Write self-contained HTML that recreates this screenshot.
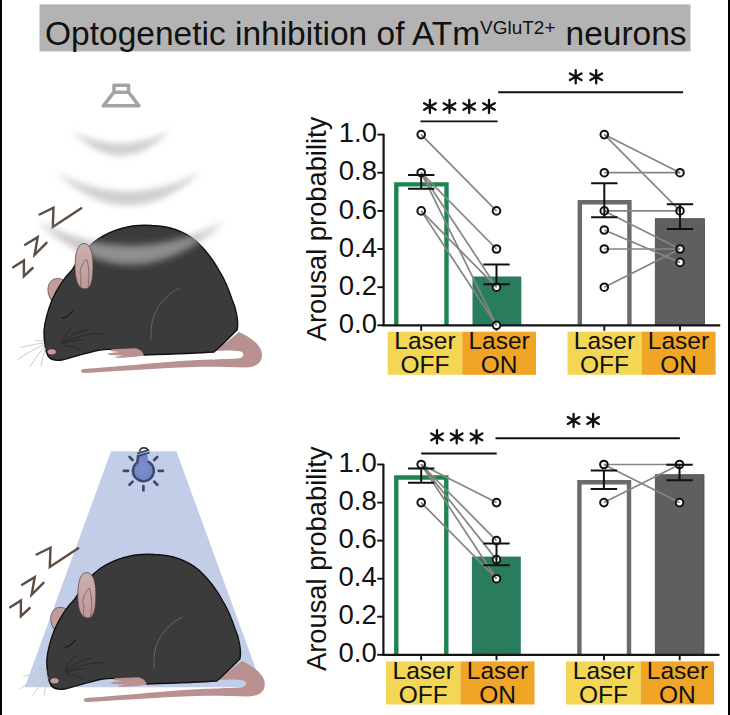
<!DOCTYPE html>
<html><head><meta charset="utf-8"><style>
html,body{margin:0;padding:0;background:#fff;}
body{width:730px;height:715px;position:relative;overflow:hidden;font-family:"Liberation Sans",sans-serif;}
</style></head><body>
<svg width="730" height="715" viewBox="0 0 730 715" style="position:absolute;left:0;top:0" font-family="Liberation Sans, sans-serif">
<defs><linearGradient id="earg" x1="0" y1="0" x2="0" y2="1"><stop offset="0" stop-color="#cbb0b0"/><stop offset="1" stop-color="#bf9797"/></linearGradient><filter id="blur" x="-20%" y="-50%" width="140%" height="200%"><feGaussianBlur stdDeviation="3.2"/></filter><filter id="blur2" x="-20%" y="-50%" width="140%" height="200%"><feGaussianBlur stdDeviation="3.6"/></filter></defs>
<rect x="0" y="0" width="730" height="715" fill="#fff"/>
<rect x="0" y="0" width="2" height="715" fill="#000"/>
<rect x="728" y="0" width="2" height="715" fill="#000"/>
<rect x="39.5" y="4.4" width="651" height="47" fill="#b3b3b3"/>
<text x="45" y="44.5" font-size="33.5" fill="#111">Optogenetic inhibition of ATm<tspan font-size="19" dy="-11" x="480">VGluT2+</tspan><tspan x="565.5" dy="11">neurons</tspan></text>
<path d="M114,85.2 H128.6 V92.2 H114 Z M114,92.2 L103.3,105.8 H139 L128.6,92.2" fill="none" stroke="#a3a3a3" stroke-width="3.5" stroke-linejoin="round"/>
<path d="M72.9,131.5 Q121.45,180.0 170,130.5 Q121.45,156.0 72.9,131.5 Z" fill="#cdcdcd" filter="url(#blur)"/>
<path d="M56.5,172.5 Q128.75,239.0 201,171.5 Q128.75,211.0 56.5,172.5 Z" fill="#cdcdcd" filter="url(#blur)"/>
<path d="M39.6,214.5 L53.5,207.6 L52.8,227 L81.2,208.2 M25.1,244.7 L37.7,237.1 L34.6,254.8 L46.5,242.8 M13.2,267.3 L23.9,260.4 L23.9,276.2 L32.7,268" fill="none" stroke="#5d4c44" stroke-width="2.4" stroke-linejoin="miter" stroke-linecap="round"/>
<path d="M212,351 C222,346 232,338 239,332 C250,337 262,345 262,355 C262,363 256,367 246,367.5 C225,367 205,366 180,367.5 C150,369 110,371.5 84,373 C80,372.5 80,369.5 84,369 C110,367 150,363.5 180,361 C205,359.5 228,359 238,358.5 C244,357.5 245,354 241,351.5 C232,350 222,350.5 212,351 Z" fill="#b99191"/>
<path d="M51,300 C46,292 47,282 54,279 C60,277 66,280 68,286 L58,300 Z" fill="#c29c9c" stroke="#333" stroke-width="0.6"/>
<path d="M72,270 C66,276 58,287 52,300 C48,310 45,320 44,331 C44,340 45,350 48,356 C51,360 56,361 62,360 C72,358 84,353 100,350 C115,348 130,351 144,355 C175,354 200,353 214,352 C222,345 231,336 237,330 C239,322 236,308 232.3,300 C229,290 225,280 220,272 C214,261 206,250 196,241 C185,232 170,226 152,225.5 C130,224 112,230 98,239 C86,247 78,260 72,270 Z" fill="#3b3b3b" stroke="#111" stroke-width="1.4"/>
<path d="M144,355.5 C143,352 140,349 135,348.3 L112,349.2 C110,349.7 110,351 112,351.3 L119,352 L108.5,353.3 C107.8,354.3 108.5,355 110,355 L123,355.5 L115.5,356.8 C115,357.5 116,358 118,357.8 C128,357.5 138,356.8 144,355.5 Z" fill="#b99191"/>
<path d="M179.6,288 C165,295 155,308 152,322 C151,330 151,336 151,340" fill="none" stroke="#6a6a6a" stroke-width="0.9"/>
<ellipse cx="51.7" cy="351.8" rx="4.2" ry="2.6" fill="#c99a9a"/>
<path d="M62.2,318.3 C67,317 71,314 72.7,310.6" fill="none" stroke="#1a1a1a" stroke-width="1.2"/>
<path d="M61.6,343.3 C64,336 68,330 74,325.5 M62,342 C70,335 80,331 89.7,329 M62.5,343 C74,337 90,333 102.7,333.7 M63,344 C70,341 77,340 83.5,339.9 M63.5,345.5 C70,346 76,348 80,350" fill="none" stroke="#262626" stroke-width="0.8"/>
<path d="M44.5,343 C35,344 27,346 20.5,347.5 M44.5,344.5 C35,349 25,354 17,360 M45,346 C40,352 35,359 30,366.5 M45.5,348 C44,354 42,360 41,366.5 M44,341.5 C41,341 38,340.5 35.5,340.5" fill="none" stroke="#c4c4c4" stroke-width="0.9"/>
<path d="M37,221 Q131.0,308.0 225,221 Q131.0,270.0 37,221 Z" fill="#b0b0b0" fill-opacity="0.72" filter="url(#blur2)"/>
<path d="M84,243.5 C90,243.5 93,252 93,266 C93,280 91,289 85,289 C78,289 75,280 75,266 C75,252 78,243.5 84,243.5 Z" fill="url(#earg)" stroke="#4a4040" stroke-width="0.7"/>
<path d="M86.5,259 C82,264 79,270 80.5,275 C82,279 79.5,283 81.5,288 M86.5,259 C89,266 89.5,276 88,287" fill="none" stroke="#806868" stroke-width="0.9"/>
<g transform="translate(0,0)"><polygon points="111.1,451.3 176.4,451.3 262.5,687.3 24.7,687.3" fill="#c2cde7"/>
<defs><radialGradient id="bg" cx="0.5" cy="0.55" r="0.6"><stop offset="0" stop-color="#7f90d0"/><stop offset="1" stop-color="#6d7ec2"/></radialGradient></defs>
<path d="M138.2,456 L147,454.5 C147.5,457 148,459.5 148.6,461.8 A10.4,10.4 0 1 1 137.4,462.3 Z" fill="url(#bg)"/>
<path d="M148.6,461.8 A10.4,10.4 0 1 1 137.4,462.3 C137.6,460 137.8,458 138.2,456" fill="none" stroke="#3e4a6c" stroke-width="2.6" stroke-linecap="round"/>
<path d="M137.5,456 L148.8,452.8 M138,453.2 L148.5,450.2" fill="none" stroke="#3e4a6c" stroke-width="1.9" stroke-linecap="round"/>
<path d="M139.8,451.2 C140,447 147.5,446.5 147.8,450.8" fill="none" stroke="#3b3a44" stroke-width="1.8"/>
<path d="M158.7,470.8L163.0,470.8 M154.2,481.6L157.3,484.7 M143.4,486.1L143.4,490.4 M132.6,481.6L129.5,484.7 M128.1,470.8L123.8,470.8 M132.6,460.0L129.5,456.9 M154.2,460.0L157.3,456.9" stroke="#3e4a6c" stroke-width="2.7" stroke-linecap="round"/></g>
<g transform="translate(-3,340)"><path d="M39.6,214.5 L53.5,207.6 L52.8,227 L81.2,208.2 M25.1,244.7 L37.7,237.1 L34.6,254.8 L46.5,242.8 M13.2,267.3 L23.9,260.4 L23.9,276.2 L32.7,268" fill="none" stroke="#5d4c44" stroke-width="2.4" stroke-linejoin="miter" stroke-linecap="round"/></g><g transform="translate(2.8,329)"><path d="M212,351 C222,346 232,338 239,332 C250,337 262,345 262,355 C262,363 256,367 246,367.5 C225,367 205,366 180,367.5 C150,369 110,371.5 84,373 C80,372.5 80,369.5 84,369 C110,367 150,363.5 180,361 C205,359.5 228,359 238,358.5 C244,357.5 245,354 241,351.5 C232,350 222,350.5 212,351 Z" fill="#b99191"/>
<path d="M51,300 C46,292 47,282 54,279 C60,277 66,280 68,286 L58,300 Z" fill="#c29c9c" stroke="#333" stroke-width="0.6"/>
<path d="M72,270 C66,276 58,287 52,300 C48,310 45,320 44,331 C44,340 45,350 48,356 C51,360 56,361 62,360 C72,358 84,353 100,350 C115,348 130,351 144,355 C175,354 200,353 214,352 C222,345 231,336 237,330 C239,322 236,308 232.3,300 C229,290 225,280 220,272 C214,261 206,250 196,241 C185,232 170,226 152,225.5 C130,224 112,230 98,239 C86,247 78,260 72,270 Z" fill="#3b3b3b" stroke="#111" stroke-width="1.4"/>
<path d="M144,355.5 C143,352 140,349 135,348.3 L112,349.2 C110,349.7 110,351 112,351.3 L119,352 L108.5,353.3 C107.8,354.3 108.5,355 110,355 L123,355.5 L115.5,356.8 C115,357.5 116,358 118,357.8 C128,357.5 138,356.8 144,355.5 Z" fill="#b99191"/>
<path d="M179.6,288 C165,295 155,308 152,322 C151,330 151,336 151,340" fill="none" stroke="#6a6a6a" stroke-width="0.9"/>
<ellipse cx="51.7" cy="351.8" rx="4.2" ry="2.6" fill="#c99a9a"/>
<path d="M62.2,318.3 C67,317 71,314 72.7,310.6" fill="none" stroke="#1a1a1a" stroke-width="1.2"/>
<path d="M61.6,343.3 C64,336 68,330 74,325.5 M62,342 C70,335 80,331 89.7,329 M62.5,343 C74,337 90,333 102.7,333.7 M63,344 C70,341 77,340 83.5,339.9 M63.5,345.5 C70,346 76,348 80,350" fill="none" stroke="#262626" stroke-width="0.8"/>
<path d="M44.5,343 C35,344 27,346 20.5,347.5 M44.5,344.5 C35,349 25,354 17,360 M45,346 C40,352 35,359 30,366.5 M45.5,348 C44,354 42,360 41,366.5 M44,341.5 C41,341 38,340.5 35.5,340.5" fill="none" stroke="#c4c4c4" stroke-width="0.9"/><path d="M84,243.5 C90,243.5 93,252 93,266 C93,280 91,289 85,289 C78,289 75,280 75,266 C75,252 78,243.5 84,243.5 Z" fill="url(#earg)" stroke="#4a4040" stroke-width="0.7"/>
<path d="M86.5,259 C82,264 79,270 80.5,275 C82,279 79.5,283 81.5,288 M86.5,259 C89,266 89.5,276 88,287" fill="none" stroke="#806868" stroke-width="0.9"/></g>
<path d="M396.3,325.3V184.4H446.5V325.3" fill="none" stroke="#1d8552" stroke-width="4.4"/>
<rect x="472.5" y="276.5" width="48.8" height="48.8" fill="#297c5c" stroke="none" stroke-width="0.8"/>
<path d="M579.8,325.3V202.2H629.4V325.3" fill="none" stroke="#6a6a6a" stroke-width="4.4"/>
<rect x="655.3" y="218.7" width="49.2" height="106.6" fill="#5f5f5f" stroke="#484848" stroke-width="0.8"/>
<path d="M383.6,133.8V325.3H720.2" fill="none" stroke="#151515" stroke-width="2.2"/>
<path d="M377.4,325.3H383.6" stroke="#111" stroke-width="1.9"/>
<path d="M377.4,287.2H383.6" stroke="#111" stroke-width="1.9"/>
<path d="M377.4,249.0H383.6" stroke="#111" stroke-width="1.9"/>
<path d="M377.4,210.9H383.6" stroke="#111" stroke-width="1.9"/>
<path d="M377.4,172.7H383.6" stroke="#111" stroke-width="1.9"/>
<path d="M377.4,134.6H383.6" stroke="#111" stroke-width="1.9"/>
<path d="M421.2,325.3V330.8" stroke="#111" stroke-width="1.9"/>
<path d="M496.5,325.3V330.8" stroke="#111" stroke-width="1.9"/>
<path d="M604.3,325.3V330.8" stroke="#111" stroke-width="1.9"/>
<path d="M680.0,325.3V330.8" stroke="#111" stroke-width="1.9"/>
<text x="377.0" y="332.9" text-anchor="end" font-size="27.5" fill="#111">0.0</text>
<text x="377.0" y="294.8" text-anchor="end" font-size="27.5" fill="#111">0.2</text>
<text x="377.0" y="256.6" text-anchor="end" font-size="27.5" fill="#111">0.4</text>
<text x="377.0" y="218.5" text-anchor="end" font-size="27.5" fill="#111">0.6</text>
<text x="377.0" y="180.3" text-anchor="end" font-size="27.5" fill="#111">0.8</text>
<text x="377.0" y="142.2" text-anchor="end" font-size="27.5" fill="#111">1.0</text>
<text transform="translate(325.5,229.0) rotate(-90)" text-anchor="middle" font-size="27.3" fill="#111">Arousal probability</text>
<circle cx="421.2" cy="134.6" r="3.8" fill="#fff"/>
<circle cx="421.2" cy="172.7" r="3.8" fill="#fff"/>
<circle cx="421.2" cy="210.9" r="3.8" fill="#fff"/>
<circle cx="496.5" cy="210.9" r="3.8" fill="#fff"/>
<circle cx="496.5" cy="249.0" r="3.8" fill="#fff"/>
<circle cx="496.5" cy="287.2" r="3.8" fill="#fff"/>
<circle cx="496.5" cy="325.3" r="3.8" fill="#fff"/>
<circle cx="604.3" cy="134.6" r="3.8" fill="#fff"/>
<circle cx="604.3" cy="172.7" r="3.8" fill="#fff"/>
<circle cx="604.3" cy="210.9" r="3.8" fill="#fff"/>
<circle cx="604.3" cy="230.0" r="3.8" fill="#fff"/>
<circle cx="604.3" cy="249.0" r="3.8" fill="#fff"/>
<circle cx="604.3" cy="287.2" r="3.8" fill="#fff"/>
<circle cx="680.0" cy="172.7" r="3.8" fill="#fff"/>
<circle cx="680.0" cy="210.9" r="3.8" fill="#fff"/>
<circle cx="680.0" cy="249.0" r="3.8" fill="#fff"/>
<circle cx="680.0" cy="262.4" r="3.8" fill="#fff"/>
<line x1="421.2" y1="134.6" x2="496.5" y2="210.9" stroke="#858585" stroke-width="1.7"/>
<line x1="421.2" y1="172.7" x2="496.5" y2="249.0" stroke="#858585" stroke-width="1.7"/>
<line x1="421.2" y1="172.7" x2="496.5" y2="287.2" stroke="#858585" stroke-width="1.7"/>
<line x1="421.2" y1="172.7" x2="496.5" y2="325.3" stroke="#858585" stroke-width="1.7"/>
<line x1="421.2" y1="210.9" x2="496.5" y2="287.2" stroke="#858585" stroke-width="1.7"/>
<line x1="421.2" y1="210.9" x2="496.5" y2="325.3" stroke="#858585" stroke-width="1.7"/>
<line x1="604.3" y1="134.6" x2="680.0" y2="172.7" stroke="#858585" stroke-width="1.7"/>
<line x1="604.3" y1="134.6" x2="680.0" y2="210.9" stroke="#858585" stroke-width="1.7"/>
<line x1="604.3" y1="172.7" x2="680.0" y2="172.7" stroke="#858585" stroke-width="1.7"/>
<line x1="604.3" y1="210.9" x2="680.0" y2="210.9" stroke="#858585" stroke-width="1.7"/>
<line x1="604.3" y1="210.9" x2="680.0" y2="249.0" stroke="#858585" stroke-width="1.7"/>
<line x1="604.3" y1="230.0" x2="680.0" y2="262.4" stroke="#858585" stroke-width="1.7"/>
<line x1="604.3" y1="249.0" x2="680.0" y2="249.0" stroke="#858585" stroke-width="1.7"/>
<line x1="604.3" y1="287.2" x2="680.0" y2="249.0" stroke="#858585" stroke-width="1.7"/>
<circle cx="421.2" cy="134.6" r="3.8" fill="none" stroke="#111" stroke-width="2"/>
<circle cx="421.2" cy="172.7" r="3.8" fill="none" stroke="#111" stroke-width="2"/>
<circle cx="421.2" cy="210.9" r="3.8" fill="none" stroke="#111" stroke-width="2"/>
<circle cx="496.5" cy="210.9" r="3.8" fill="none" stroke="#111" stroke-width="2"/>
<circle cx="496.5" cy="249.0" r="3.8" fill="none" stroke="#111" stroke-width="2"/>
<circle cx="496.5" cy="287.2" r="3.8" fill="none" stroke="#111" stroke-width="2"/>
<circle cx="496.5" cy="325.3" r="3.8" fill="none" stroke="#111" stroke-width="2"/>
<circle cx="604.3" cy="134.6" r="3.8" fill="none" stroke="#111" stroke-width="2"/>
<circle cx="604.3" cy="172.7" r="3.8" fill="none" stroke="#111" stroke-width="2"/>
<circle cx="604.3" cy="210.9" r="3.8" fill="none" stroke="#111" stroke-width="2"/>
<circle cx="604.3" cy="230.0" r="3.8" fill="none" stroke="#111" stroke-width="2"/>
<circle cx="604.3" cy="249.0" r="3.8" fill="none" stroke="#111" stroke-width="2"/>
<circle cx="604.3" cy="287.2" r="3.8" fill="none" stroke="#111" stroke-width="2"/>
<circle cx="680.0" cy="172.7" r="3.8" fill="none" stroke="#111" stroke-width="2"/>
<circle cx="680.0" cy="210.9" r="3.8" fill="none" stroke="#111" stroke-width="2"/>
<circle cx="680.0" cy="249.0" r="3.8" fill="none" stroke="#111" stroke-width="2"/>
<circle cx="680.0" cy="262.4" r="3.8" fill="none" stroke="#111" stroke-width="2"/>
<path d="M408.0,175.0H434.4M421.2,175.0V188.8M408.0,188.8H434.4" stroke="#111" stroke-width="2" fill="none"/>
<path d="M483.3,264.5H509.7M496.5,264.5V284.2M483.3,284.2H509.7" stroke="#111" stroke-width="2" fill="none"/>
<path d="M591.1,183.3H617.5M604.3,183.3V217.2M591.1,217.2H617.5" stroke="#111" stroke-width="2" fill="none"/>
<path d="M666.8,204.2H693.2M680.0,204.2V229.0M666.8,229.0H693.2" stroke="#111" stroke-width="2" fill="none"/>
<path d="M429.9,99.9V113.1M424.1,103.2L435.7,109.8M424.1,109.8L435.7,103.2" stroke="#111" stroke-width="2.3" stroke-linecap="round" fill="none"/>
<path d="M449.5,99.9V113.1M443.7,103.2L455.3,109.8M443.7,109.8L455.3,103.2" stroke="#111" stroke-width="2.3" stroke-linecap="round" fill="none"/>
<path d="M469.2,99.9V113.1M463.4,103.2L475.0,109.8M463.4,109.8L475.0,103.2" stroke="#111" stroke-width="2.3" stroke-linecap="round" fill="none"/>
<path d="M489.0,99.9V113.1M483.2,103.2L494.8,109.8M483.2,109.8L494.8,103.2" stroke="#111" stroke-width="2.3" stroke-linecap="round" fill="none"/>
<path d="M575.7,70.2V83.4M569.9,73.5L581.5,80.1M569.9,80.1L581.5,73.5" stroke="#111" stroke-width="2.3" stroke-linecap="round" fill="none"/>
<path d="M596.2,70.2V83.4M590.4,73.5L602.0,80.1M590.4,80.1L602.0,73.5" stroke="#111" stroke-width="2.3" stroke-linecap="round" fill="none"/>
<path d="M420.5,121.4H497.6" stroke="#111" stroke-width="1.9"/>
<path d="M498.2,92.3H683.1" stroke="#111" stroke-width="1.9"/>
<rect x="387.7" y="331.7" width="74.5" height="43.1" fill="#f3d654"/>
<text x="424.9" y="348.8" text-anchor="middle" font-size="24.5" fill="#111">Laser</text>
<text x="424.9" y="373.2" text-anchor="middle" font-size="24.5" fill="#111">OFF</text>
<rect x="462.2" y="331.7" width="73.8" height="43.1" fill="#f0a526"/>
<text x="499.1" y="348.8" text-anchor="middle" font-size="24.5" fill="#111">Laser</text>
<text x="499.1" y="373.2" text-anchor="middle" font-size="24.5" fill="#111">ON</text>
<rect x="567.5" y="331.7" width="74.0" height="43.1" fill="#f3d654"/>
<text x="604.5" y="348.8" text-anchor="middle" font-size="24.5" fill="#111">Laser</text>
<text x="604.5" y="373.2" text-anchor="middle" font-size="24.5" fill="#111">OFF</text>
<rect x="641.5" y="331.7" width="74.1" height="43.1" fill="#f0a526"/>
<text x="678.5" y="348.8" text-anchor="middle" font-size="24.5" fill="#111">Laser</text>
<text x="678.5" y="373.2" text-anchor="middle" font-size="24.5" fill="#111">ON</text>
<path d="M396.3,654.8V477.5H446.3V654.8" fill="none" stroke="#1d8552" stroke-width="4.4"/>
<rect x="471.9" y="556.6" width="48.9" height="98.2" fill="#297c5c" stroke="none" stroke-width="0.8"/>
<path d="M579.4,654.8V482.3H629.0V654.8" fill="none" stroke="#6a6a6a" stroke-width="4.4"/>
<rect x="655.3" y="474.7" width="48.7" height="180.1" fill="#5f5f5f" stroke="#484848" stroke-width="0.8"/>
<path d="M383.4,463.7V654.8H719.5" fill="none" stroke="#151515" stroke-width="2.2"/>
<path d="M377.2,654.8H383.4" stroke="#111" stroke-width="1.9"/>
<path d="M377.2,616.7H383.4" stroke="#111" stroke-width="1.9"/>
<path d="M377.2,578.7H383.4" stroke="#111" stroke-width="1.9"/>
<path d="M377.2,540.6H383.4" stroke="#111" stroke-width="1.9"/>
<path d="M377.2,502.6H383.4" stroke="#111" stroke-width="1.9"/>
<path d="M377.2,464.5H383.4" stroke="#111" stroke-width="1.9"/>
<path d="M421.2,654.8V660.3" stroke="#111" stroke-width="1.9"/>
<path d="M496.5,654.8V660.3" stroke="#111" stroke-width="1.9"/>
<path d="M604.0,654.8V660.3" stroke="#111" stroke-width="1.9"/>
<path d="M679.7,654.8V660.3" stroke="#111" stroke-width="1.9"/>
<text x="376.8" y="662.4" text-anchor="end" font-size="27.5" fill="#111">0.0</text>
<text x="376.8" y="624.3" text-anchor="end" font-size="27.5" fill="#111">0.2</text>
<text x="376.8" y="586.3" text-anchor="end" font-size="27.5" fill="#111">0.4</text>
<text x="376.8" y="548.2" text-anchor="end" font-size="27.5" fill="#111">0.6</text>
<text x="376.8" y="510.2" text-anchor="end" font-size="27.5" fill="#111">0.8</text>
<text x="376.8" y="472.1" text-anchor="end" font-size="27.5" fill="#111">1.0</text>
<text transform="translate(325.5,558.7) rotate(-90)" text-anchor="middle" font-size="27.3" fill="#111">Arousal probability</text>
<circle cx="421.2" cy="464.5" r="3.8" fill="#fff"/>
<circle cx="421.2" cy="502.6" r="3.8" fill="#fff"/>
<circle cx="496.5" cy="502.6" r="3.8" fill="#fff"/>
<circle cx="496.5" cy="540.6" r="3.8" fill="#fff"/>
<circle cx="496.5" cy="559.6" r="3.8" fill="#fff"/>
<circle cx="496.5" cy="578.7" r="3.8" fill="#fff"/>
<circle cx="603.9" cy="464.5" r="3.8" fill="#fff"/>
<circle cx="603.9" cy="502.6" r="3.8" fill="#fff"/>
<circle cx="679.5" cy="464.5" r="3.8" fill="#fff"/>
<circle cx="679.5" cy="502.6" r="3.8" fill="#fff"/>
<line x1="421.2" y1="464.5" x2="496.5" y2="502.6" stroke="#858585" stroke-width="1.7"/>
<line x1="421.2" y1="464.5" x2="496.5" y2="540.6" stroke="#858585" stroke-width="1.7"/>
<line x1="421.2" y1="464.5" x2="496.5" y2="559.6" stroke="#858585" stroke-width="1.7"/>
<line x1="421.2" y1="464.5" x2="496.5" y2="578.7" stroke="#858585" stroke-width="1.7"/>
<line x1="421.2" y1="502.6" x2="496.5" y2="578.7" stroke="#858585" stroke-width="1.7"/>
<line x1="603.9" y1="464.5" x2="679.5" y2="464.5" stroke="#858585" stroke-width="1.7"/>
<line x1="603.9" y1="464.5" x2="679.5" y2="502.6" stroke="#858585" stroke-width="1.7"/>
<line x1="603.9" y1="502.6" x2="679.5" y2="464.5" stroke="#858585" stroke-width="1.7"/>
<circle cx="421.2" cy="464.5" r="3.8" fill="none" stroke="#111" stroke-width="2"/>
<circle cx="421.2" cy="502.6" r="3.8" fill="none" stroke="#111" stroke-width="2"/>
<circle cx="496.5" cy="502.6" r="3.8" fill="none" stroke="#111" stroke-width="2"/>
<circle cx="496.5" cy="540.6" r="3.8" fill="none" stroke="#111" stroke-width="2"/>
<circle cx="496.5" cy="559.6" r="3.8" fill="none" stroke="#111" stroke-width="2"/>
<circle cx="496.5" cy="578.7" r="3.8" fill="none" stroke="#111" stroke-width="2"/>
<circle cx="603.9" cy="464.5" r="3.8" fill="none" stroke="#111" stroke-width="2"/>
<circle cx="603.9" cy="502.6" r="3.8" fill="none" stroke="#111" stroke-width="2"/>
<circle cx="679.5" cy="464.5" r="3.8" fill="none" stroke="#111" stroke-width="2"/>
<circle cx="679.5" cy="502.6" r="3.8" fill="none" stroke="#111" stroke-width="2"/>
<path d="M408.0,468.5H434.4M421.2,468.5V482.7M408.0,482.7H434.4" stroke="#111" stroke-width="2" fill="none"/>
<path d="M483.3,543.6H509.7M496.5,543.6V565.2M483.3,565.2H509.7" stroke="#111" stroke-width="2" fill="none"/>
<path d="M590.7,470.5H617.1M603.9,470.5V489.0M590.7,489.0H617.1" stroke="#111" stroke-width="2" fill="none"/>
<path d="M666.3,464.8H692.7M679.5,464.8V480.2M666.3,480.2H692.7" stroke="#111" stroke-width="2" fill="none"/>
<path d="M437.0,430.2V443.4M431.2,433.4L442.8,440.2M431.2,440.2L442.8,433.4" stroke="#111" stroke-width="2.3" stroke-linecap="round" fill="none"/>
<path d="M456.7,430.2V443.4M450.9,433.4L462.5,440.2M450.9,440.2L462.5,433.4" stroke="#111" stroke-width="2.3" stroke-linecap="round" fill="none"/>
<path d="M476.5,430.2V443.4M470.7,433.4L482.3,440.2M470.7,440.2L482.3,433.4" stroke="#111" stroke-width="2.3" stroke-linecap="round" fill="none"/>
<path d="M573.6,413.9V427.1M567.8,417.1L579.4,423.9M567.8,423.9L579.4,417.1" stroke="#111" stroke-width="2.3" stroke-linecap="round" fill="none"/>
<path d="M593.1,413.9V427.1M587.3,417.1L598.9,423.9M587.3,423.9L598.9,417.1" stroke="#111" stroke-width="2.3" stroke-linecap="round" fill="none"/>
<path d="M421.2,453.5H496.7" stroke="#111" stroke-width="1.9"/>
<path d="M495.5,438.3H679.9" stroke="#111" stroke-width="1.9"/>
<rect x="386.0" y="661.4" width="74.5" height="43.1" fill="#f3d654"/>
<text x="423.2" y="678.5" text-anchor="middle" font-size="24.5" fill="#111">Laser</text>
<text x="423.2" y="702.9" text-anchor="middle" font-size="24.5" fill="#111">OFF</text>
<rect x="460.5" y="661.4" width="74.0" height="43.1" fill="#f0a526"/>
<text x="497.5" y="678.5" text-anchor="middle" font-size="24.5" fill="#111">Laser</text>
<text x="497.5" y="702.9" text-anchor="middle" font-size="24.5" fill="#111">ON</text>
<rect x="566.0" y="661.4" width="74.8" height="43.1" fill="#f3d654"/>
<text x="603.4" y="678.5" text-anchor="middle" font-size="24.5" fill="#111">Laser</text>
<text x="603.4" y="702.9" text-anchor="middle" font-size="24.5" fill="#111">OFF</text>
<rect x="640.8" y="661.4" width="73.2" height="43.1" fill="#f0a526"/>
<text x="677.4" y="678.5" text-anchor="middle" font-size="24.5" fill="#111">Laser</text>
<text x="677.4" y="702.9" text-anchor="middle" font-size="24.5" fill="#111">ON</text>
</svg>
</body></html>
